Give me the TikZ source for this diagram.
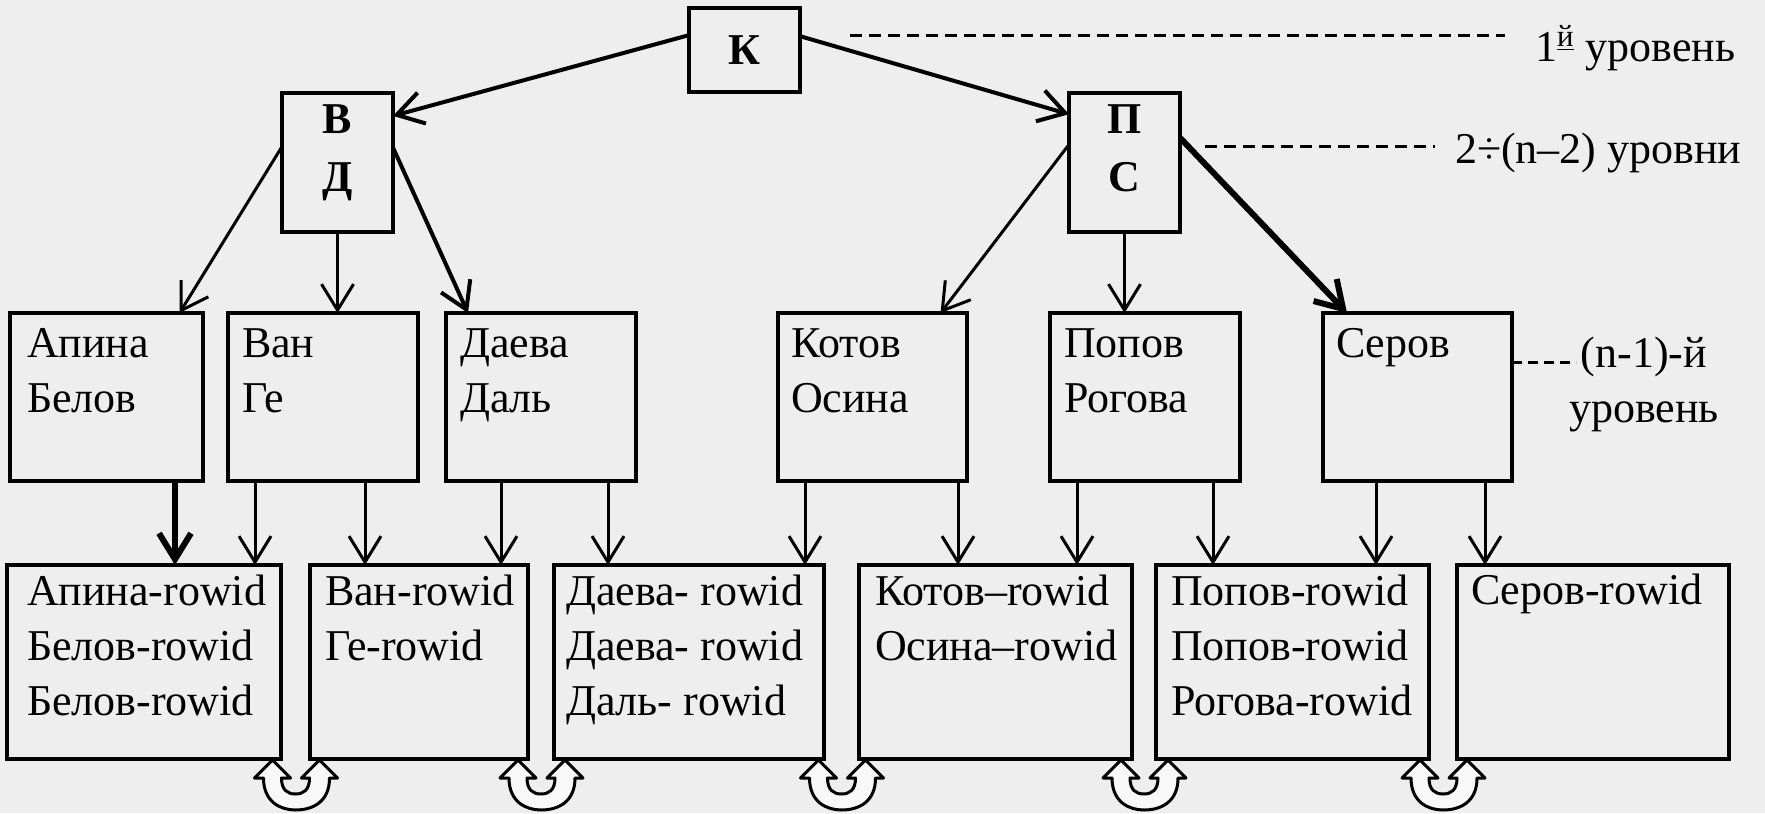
\documentclass[tikz,border=0pt]{standalone}
\usepackage{fontspec}
\setmainfont{Liberation Serif}
\usetikzlibrary{arrows.meta,calc}
\definecolor{bg}{RGB}{238,238,238}
\definecolor{ufill}{RGB}{248,248,248}
\begin{document}
\begin{tikzpicture}[x=0.5pt,y=-0.5pt,
  every node/.style={font=\fontsize{22}{27.5}\selectfont, inner sep=0pt, outer sep=0pt},
  box/.style={draw, line width=1.6pt, rectangle},
  topbox/.style={box, minimum width=55.5pt},
  boldtxt/.style={align=center, font=\fontsize{22}{28.5}\selectfont\bfseries},
  lvthree/.style={box, minimum width=#1, minimum height=84pt},
  lvfour/.style={box, minimum width=#1, minimum height=97pt},
  txt/.style={anchor=base west, align=left},
  arr/.style={line width=1.5pt, -{Straight Barb[length=13pt,width=16pt]}},
  tarr/.style={line width=3pt, -{Straight Barb[length=13pt,width=16pt]}},
  marr/.style={line width=2pt, -{Straight Barb[length=13pt,width=16pt]}},
  dashline/.style={line width=1.5pt, dash pattern=on 6pt off 3.5pt},
  shortdash/.style={line width=1.5pt, dash pattern=on 5pt off 3pt},
  uarrow/.pic={
    \filldraw[fill=ufill, line width=1.5pt, line join=round]
      (-23,1) -- (-41,19) -- (-32,19)
      .. controls (-32,43) and (-15,51) .. (0,51)
      .. controls (17,51) and (34,43) .. (34,19)
      -- (42,19) -- (24,1) -- (6,19) -- (14,19)
      .. controls (14,31) and (8,35) .. (0,35)
      .. controls (-8,35) and (-14,31) .. (-14,19)
      -- (-5,19) -- cycle;
  }
]
\fill[bg] (0,0) rectangle (1765,813);
\useasboundingbox (0,0) rectangle (1765,813);

% top levels
\node[topbox, minimum height=42pt, boldtxt] (K) at (744.5,50) {К};
\node[topbox, minimum height=69.5pt] (VD) at (337.5,162.5) {};
\node[topbox, minimum height=69.5pt] (PS) at (1124.5,162.5) {};
\node[boldtxt, anchor=base] (VDt) at (337.5,191) {В\\Д};
\node[boldtxt, anchor=base] (PSt) at (1124.5,191) {П\\С};

% level n-1
\node[lvthree=96.5pt] (b3a) at (106.5,397) {};
\node[lvthree=95pt] (b3b) at (323,397) {};
\node[lvthree=95pt] (b3c) at (541,397) {};
\node[lvthree=94.5pt] (b3d) at (872.5,397) {};
\node[lvthree=95pt] (b3e) at (1145,397) {};
\node[lvthree=94.5pt] (b3f) at (1417.5,397) {};
\node[txt] (t3a) at (27,412) {Апина\\Белов};
\node[txt] (t3b) at (242,412) {Ван\\Ге};
\node[txt] (t3c) at (460,412) {Даева\\Даль};
\node[txt] (t3d) at (791,412) {Котов\\Осина};
\node[txt] (t3e) at (1064,412) {Попов\\Рогова};
\node[txt] (t3f) at (1336,357) {Серов};

% leaf level
\node[lvfour=137pt] (b4a) at (144,662) {};
\node[lvfour=109pt] (b4b) at (419,662) {};
\node[lvfour=135pt] (b4c) at (689,662) {};
\node[lvfour=136.5pt] (b4d) at (995.5,662) {};
\node[lvfour=136.5pt] (b4e) at (1292.5,662) {};
\node[lvfour=136pt] (b4f) at (1593,662) {};
\node[txt] (t4a) at (27,715) {Апина-rowid\\Белов-rowid\\Белов-rowid};
\node[txt] (t4b) at (325,660) {Ван-rowid\\Ге-rowid};
\node[txt] (t4c) at (566,715) {Даева- rowid\\Даева- rowid\\Даль- rowid};
\node[txt] (t4d) at (875,660) {Котов–rowid\\Осина–rowid};
\node[txt] (t4e) at (1171,715) {Попов-rowid\\Попов-rowid\\Рогова-rowid};
\node[txt] (t4f) at (1471,604) {Серов-rowid};

% tree connectors
\draw[marr] (K.165.8) -- (VD.40.6);
\draw[marr] (K.14.2) -- (PS.139.4);
\draw[arr] (VD.164.4) -- (b3a.49.2);
\draw[arr] (VD.south) -- (VD.south |- b3b.north);
\draw[marr] (VD.15.6) -- (b3c.131.4);
\draw[arr] (PS.162.5) -- (b3d.51.6);
\draw[arr] (PS.south) -- (PS.south |- b3e.north);
\draw[tarr] (PS.24.7) -- (b3f.130);

\foreach \xx/\a/\b/\s in {175/b3a/b4a/tarr, 255/b3b/b4a/arr, 365/b3b/b4b/arr,
  501/b3c/b4b/arr, 608/b3c/b4c/arr, 805/b3d/b4c/arr, 958/b3d/b4d/arr,
  1077/b3e/b4d/arr, 1213/b3e/b4e/arr, 1376/b3f/b4e/arr, 1485/b3f/b4f/arr}{
  \coordinate (vx) at (\xx,0);
  \draw[\s] (\a.south -| vx) -- (\b.north -| vx);
}

% links between leaves
\pic at ($(b4a.south east)!0.5!(b4b.south west)$) {uarrow};
\pic at ($(b4b.south east)!0.5!(b4c.south west)$) {uarrow};
\pic at ($(b4c.south east)!0.5!(b4d.south west)$) {uarrow};
\pic at ($(b4d.south east)!0.5!(b4e.south west)$) {uarrow};
\pic at ($(b4e.south east)!0.5!(b4f.south west)$) {uarrow};

% level labels
\node[anchor=base west] (L1) at (1535,62) {1\textsuperscript{\underline{й}} уровень};
\node[anchor=base west] (L2) at (1455,163) {2÷(n–2) уровни};
\node[anchor=base, align=center] (L3) at (1644,422) {(n-1)-й\\уровень};
\coordinate (d1) at (850,36);
\coordinate (d2) at (1205,146);
\coordinate (d3) at (1576,362);
\draw[dashline] (d1) -- ([xshift=-15pt]d1 -| L1.west);
\draw[dashline] (d2) -- ([xshift=-10pt]d2 -| L2.west);
\draw[shortdash] (b3f.east |- d3) -- (d3);
\end{tikzpicture}
\end{document}
